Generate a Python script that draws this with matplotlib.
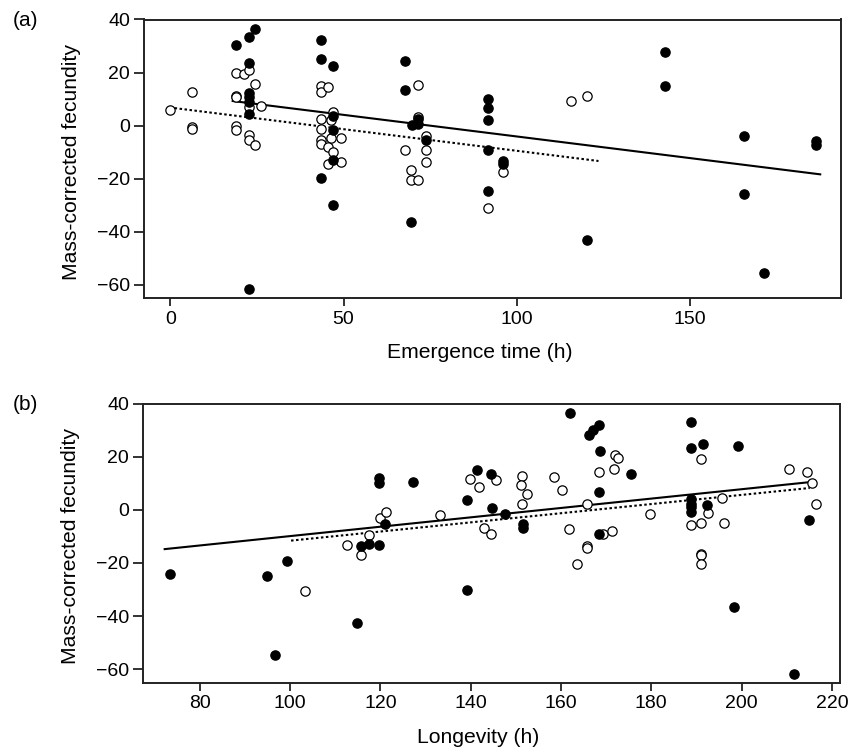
import numpy as np
import matplotlib
matplotlib.use("Agg")
import matplotlib.pyplot as plt

plt.rcParams['font.family'] = ['Liberation Sans', 'DejaVu Sans']

# (a) emergence time vs mass-corrected fecundity
emerg_filled_x = [24.5, 22.8, 19.1, 22.8, 22.8, 22.8, 22.8, 22.8, 22.8,
                  43.5, 43.5, 47.1, 47.1, 47.1, 47.1, 43.5, 47.1,
                  67.6, 67.6, 71.4, 71.4, 69.8, 73.9, 69.5,
                  91.6, 91.6, 91.6, 91.6, 96.1, 96.1, 91.6,
                  120.3, 142.9, 142.9, 165.5, 165.5, 171.5, 186.5, 186.5]
emerg_filled_y = [36.5, 33.4, 30.4, 23.6, 12.3, 10.6, 9.0, 4.5, -61.5,
                  32.1, 25.0, 22.4, 3.5, -1.5, -12.8, -19.8, -30.1,
                  24.3, 13.3, 2.6, 0.75, 0.4, -5.5, -36.5,
                  10.2, 6.6, 2.0, -9.1, -13.5, -14.6, -24.7,
                  -43.3, 27.9, 14.8, -3.9, -25.7, -55.4, -5.9, -7.4]
emerg_open_x = [-0.2, 6.35, 6.35, 6.35,
                19.1, 21.4, 22.8, 24.5, 19.1, 19.1, 22.8, 26.2, 19.1, 19.1, 22.8, 22.8, 24.5,
                43.5, 43.5, 45.5, 47.1, 43.5, 43.5, 46.4, 46.4, 43.5, 43.5, 49.4, 45.5, 47.1, 45.5, 49.4,
                71.4, 71.4, 73.9, 67.6, 73.9, 73.9, 69.5, 69.5, 71.4,
                96.1, 91.6, 115.8, 120.3]
emerg_open_y = [6.0, 12.7, -0.5, -1.4,
                19.8, 19.6, 20.9, 15.6, 11.3, 10.6, 7.0, 7.3, -0.1, -1.8, -3.4, -5.5, -7.2,
                14.8, 12.7, 14.6, 5.1, 2.3, -1.1, 2.0, -4.5, -5.5, -6.8, -4.5, -8.1, -10.0, -14.3, -13.7,
                15.3, 3.4, -3.8, -9.1, -9.1, -13.7, -16.6, -20.4, -20.6,
                -17.4, -31.2, 9.3, 11.1]

# (b) longevity vs mass-corrected fecundity
long_filled_x = [73.3, 94.8, 99.3, 96.6, 114.7, 115.8, 117.5, 119.7, 119.7, 119.7, 121.1,
                 127.3, 139.1, 139.1, 141.3, 144.4, 144.8, 147.6, 151.6, 151.6,
                 161.9, 166.2, 167.1, 168.4, 168.7, 175.4, 168.4, 168.4,
                 188.9, 188.9, 191.5, 199.1, 188.7, 188.7, 188.7, 188.7, 192.4,
                 198.4, 214.9, 211.7]
long_filled_y = [-24.1, -25.0, -19.4, -54.5, -42.7, -13.6, -12.8, -13.1, 11.8, 9.9, -5.2,
                 10.3, 3.6, -30.1, 15.1, 13.4, 0.5, -1.6, -5.4, -6.8,
                 36.3, 28.1, 30.0, 31.9, 22.2, 13.4, 6.6, -9.0,
                 33.1, 23.1, 24.6, 23.9, 4.2, 2.3, 1.1, -0.8, 1.7,
                 -36.6, -4.0, -61.7]
long_open_x = [103.3, 112.5, 115.8, 117.5, 119.9, 121.3, 133.1, 139.8, 141.9, 142.9, 144.4,
               145.5, 151.4, 151.1, 152.4, 151.4, 158.4, 160.2, 161.8, 163.6,
               165.8, 165.8, 165.8, 168.4, 171.7, 171.9, 172.6, 169.2, 171.4, 179.8,
               190.9, 195.7, 192.6, 188.9, 190.9, 196.0, 190.9, 190.9, 190.9,
               210.4, 214.5, 215.6, 216.4]
long_open_y = [-30.6, -13.4, -16.9, -9.6, -3.1, -0.8, -2.1, 11.4, 8.6, -6.7, -9.0,
               11.1, 12.6, 9.4, 5.8, 2.0, 12.4, 7.3, -7.2, -20.4,
               2.3, -13.6, -14.2, 14.4, 15.3, 20.5, 19.5, -9.0, -8.1, -1.7,
               19.2, 4.6, -1.1, -5.7, -4.8, -4.8, -16.5, -17.2, -20.4,
               15.2, 14.3, 10.1, 2.1]

# regression lines: (x start, x end, intercept, slope)
fit_a_solid = (18.0, 187.6, 12.2, -0.163)
fit_a_dotted = (-0.2, 123.6, 6.8, -0.163)
fit_b_solid = (72.2, 215.6, -27.54, 0.1764)
fit_b_dotted = (100.2, 215.1, -28.86, 0.1723)

fig = plt.figure(figsize=(8.52, 7.5), dpi=100)
ax_a = fig.add_axes([144 / 852, 1 - 298 / 750, 697 / 852, 278.5 / 750])
ax_b = fig.add_axes([143 / 852, 1 - 682.5 / 750, 697 / 852, 279 / 750])


def draw_fit(ax, fit, ls):
    x = np.array([fit[0], fit[1]])
    ax.plot(x, fit[2] + fit[3] * x, color='black', lw=1.5, linestyle=ls, zorder=2)


def style(ax, xlabel, xticks, xlim):
    ax.set_xlim(*xlim)
    ax.set_ylim(-65, 40)
    ax.set_xticks(xticks)
    ax.set_yticks([-60, -40, -20, 0, 20, 40])
    ax.set_yticklabels(['\u221260', '\u221240', '\u221220', '0', '20', '40'])
    ax.tick_params(axis='x', length=6, width=1.3, pad=3, labelsize=14, color='#222222')
    ax.tick_params(axis='y', length=7, width=1.3, pad=3, labelsize=14, color='#222222')
    for s in ax.spines.values():
        s.set_linewidth(1.4)
        s.set_color('#222222')
    ax.set_xlabel(xlabel, fontsize=15.2)
    ax.set_ylabel('Mass-corrected fecundity', fontsize=15.2)
    ax.xaxis.set_label_coords(0.481, -55 / 279)
    ax.xaxis.label.set_verticalalignment('center')
    ax.yaxis.set_label_coords(-72.5 / 697, 0.49)
    ax.yaxis.label.set_verticalalignment('center')


# panel (a)
ax_a.plot(emerg_open_x, emerg_open_y, 'o', ms=6.7, mfc='white', mec='black', mew=0.9, zorder=3)
ax_a.plot(emerg_filled_x, emerg_filled_y, 'o', ms=6.7, mfc='black', mec='black', mew=0.9, zorder=3)
draw_fit(ax_a, fit_a_solid, '-')
draw_fit(ax_a, fit_a_dotted, (0, (1.2, 1.2)))
style(ax_a, 'Emergence time (h)', [0, 50, 100, 150], (-7.6, 193.6))

# panel (b)
ax_b.plot(long_open_x, long_open_y, 'o', ms=6.7, mfc='white', mec='black', mew=0.9, zorder=3)
ax_b.plot(long_filled_x, long_filled_y, 'o', ms=6.7, mfc='black', mec='black', mew=0.9, zorder=3)
draw_fit(ax_b, fit_b_solid, '-')
draw_fit(ax_b, fit_b_dotted, (0, (1.2, 1.2)))
style(ax_b, 'Longevity (h)', [80, 100, 120, 140, 160, 180, 200, 220], (67.4, 221.8))

fig.text(13 / 852, 1 - 20 / 750, '(a)', fontsize=15, ha='left', va='center')
fig.text(13 / 852, 1 - 405 / 750, '(b)', fontsize=15, ha='left', va='center')

fig.savefig('out.png', dpi=100)
